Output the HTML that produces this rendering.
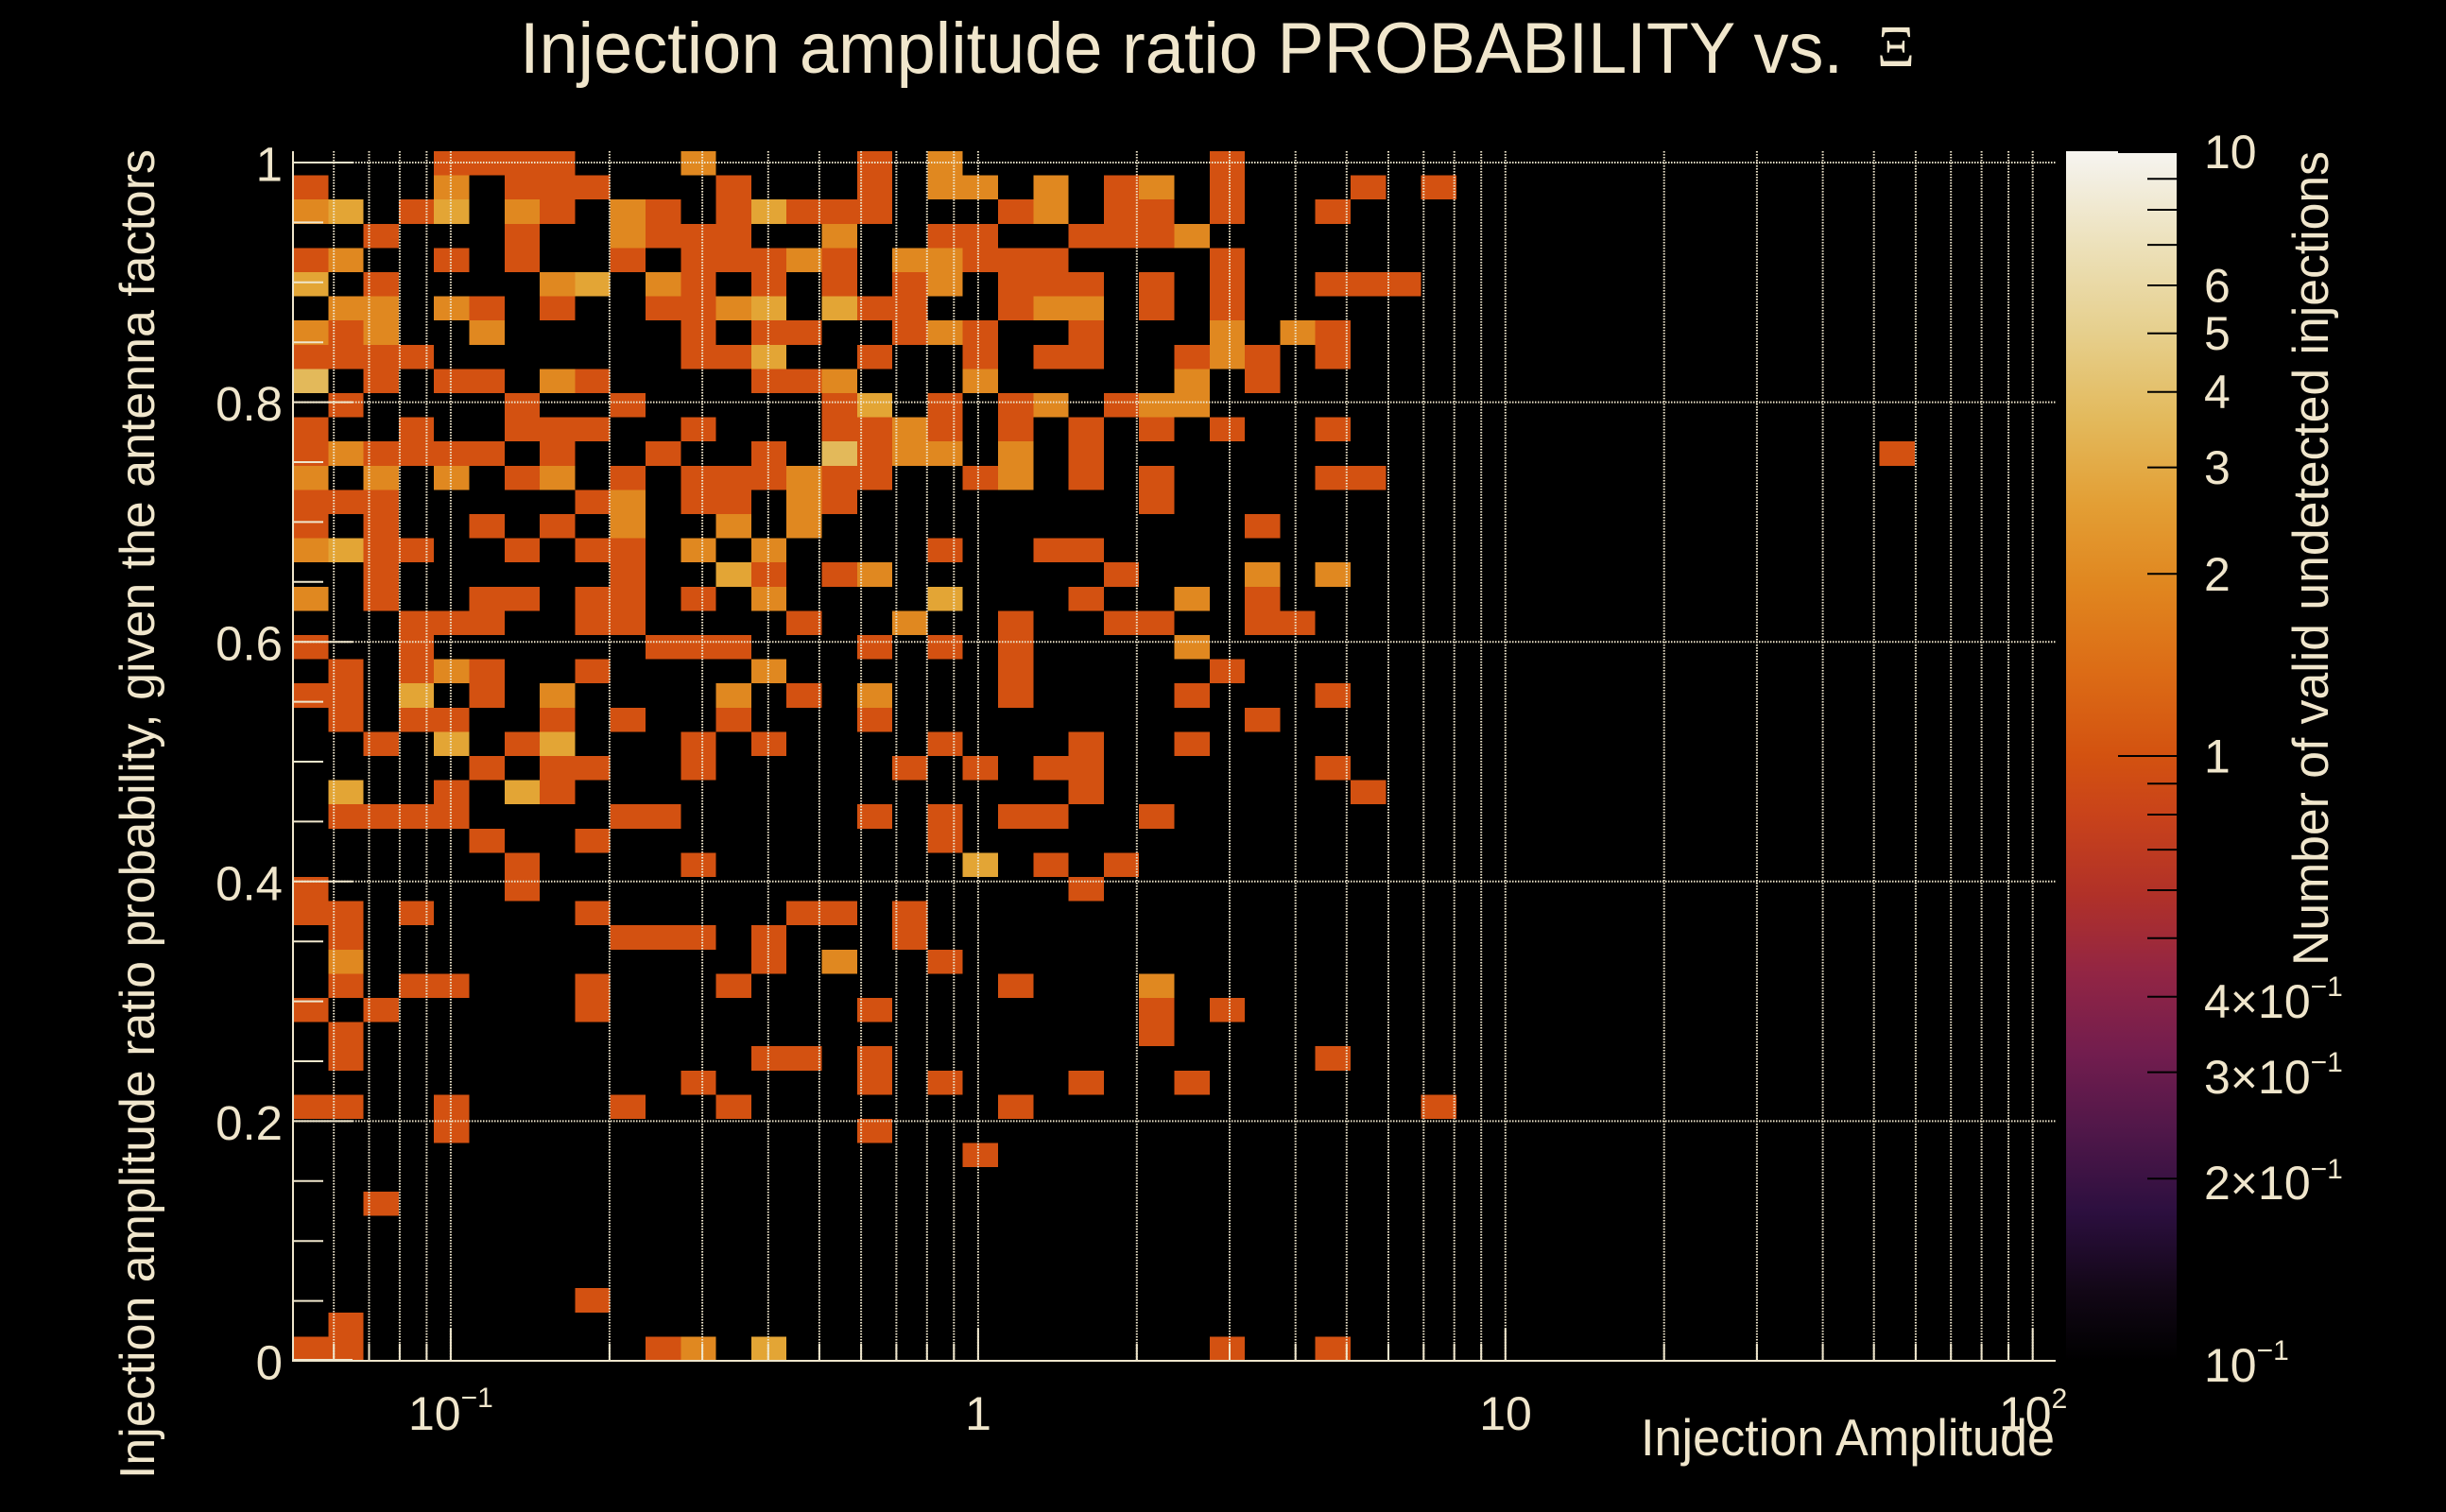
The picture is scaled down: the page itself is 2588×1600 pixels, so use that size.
<!DOCTYPE html>
<html>
<head>
<meta charset="utf-8">
<style>
html,body{margin:0;padding:0;background:#000;}
svg{display:block;}
.t{font-family:"Liberation Sans",sans-serif;fill:#f0e6cc;}
</style>
</head>
<body>
<svg width="2588" height="1600" viewBox="0 0 2588 1600" xmlns="http://www.w3.org/2000/svg">
<defs>
<linearGradient id="cb" x1="0" y1="0" x2="0" y2="1">
<stop offset="0" stop-color="#f7f5f0"/>
<stop offset="0.012" stop-color="#f4f1e8"/>
<stop offset="0.081" stop-color="#ece0b8"/>
<stop offset="0.151" stop-color="#e6cf8c"/>
<stop offset="0.220" stop-color="#e3ba5d"/>
<stop offset="0.291" stop-color="#e39f35"/>
<stop offset="0.360" stop-color="#e0861f"/>
<stop offset="0.430" stop-color="#dc6c16"/>
<stop offset="0.500" stop-color="#d35210"/>
<stop offset="0.548" stop-color="#c9431a"/>
<stop offset="0.614" stop-color="#b13128"/>
<stop offset="0.680" stop-color="#922544"/>
<stop offset="0.746" stop-color="#721d4e"/>
<stop offset="0.812" stop-color="#4f1749"/>
<stop offset="0.877" stop-color="#2c0f3f"/>
<stop offset="0.943" stop-color="#120716"/>
<stop offset="1" stop-color="#000000"/>
</linearGradient>
</defs>
<rect x="0" y="0" width="2588" height="1600" fill="#000"/>

<!-- heatmap cells -->
<g transform="translate(310,160) scale(37.3,25.6)" shape-rendering="crispEdges">
<path fill="#d35111" d="M4 0h4v1h-4zM16 0h1v1h-1zM26 0h1v1h-1z
M0 1h1v1h-1zM6 1h3v1h-3zM12 1h1v1h-1zM16 1h1v1h-1zM23 1h1v1h-1zM26 1h1v1h-1zM30 1h1v1h-1zM32 1h1v1h-1z
M3 2h1v1h-1zM7 2h1v1h-1zM10 2h1v1h-1zM12 2h1v1h-1zM14 2h3v1h-3zM20 2h1v1h-1zM23 2h2v1h-2zM26 2h1v1h-1zM29 2h1v1h-1z
M2 3h1v1h-1zM6 3h1v1h-1zM10 3h3v1h-3zM18 3h2v1h-2zM22 3h3v1h-3z
M0 4h1v1h-1zM4 4h1v1h-1zM6 4h1v1h-1zM9 4h1v1h-1zM11 4h3v1h-3zM15 4h1v1h-1zM19 4h3v1h-3zM26 4h1v1h-1z
M2 5h1v1h-1zM11 5h1v1h-1zM13 5h1v1h-1zM15 5h1v1h-1zM17 5h1v1h-1zM20 5h3v1h-3zM24 5h1v1h-1zM26 5h1v1h-1zM29 5h3v1h-3z
M5 6h1v1h-1zM7 6h1v1h-1zM10 6h2v1h-2zM16 6h2v1h-2zM20 6h1v1h-1zM24 6h1v1h-1zM26 6h1v1h-1z
M1 7h1v1h-1zM11 7h1v1h-1zM13 7h2v1h-2zM17 7h1v1h-1zM19 7h1v1h-1zM22 7h1v1h-1zM29 7h1v1h-1z
M0 8h4v1h-4zM11 8h2v1h-2zM16 8h1v1h-1zM19 8h1v1h-1zM21 8h2v1h-2zM25 8h1v1h-1zM27 8h1v1h-1zM29 8h1v1h-1z
M2 9h1v1h-1zM4 9h2v1h-2zM8 9h1v1h-1zM13 9h2v1h-2zM27 9h1v1h-1z
M1 10h1v1h-1zM6 10h1v1h-1zM9 10h1v1h-1zM15 10h1v1h-1zM18 10h1v1h-1zM20 10h1v1h-1zM23 10h1v1h-1z
M0 11h1v1h-1zM3 11h1v1h-1zM6 11h3v1h-3zM11 11h1v1h-1zM15 11h2v1h-2zM18 11h1v1h-1zM20 11h1v1h-1zM22 11h1v1h-1zM24 11h1v1h-1zM26 11h1v1h-1zM29 11h1v1h-1z
M0 12h1v1h-1zM2 12h4v1h-4zM7 12h1v1h-1zM10 12h1v1h-1zM13 12h1v1h-1zM16 12h1v1h-1zM22 12h1v1h-1zM45 12h1v1h-1z
M6 13h1v1h-1zM9 13h1v1h-1zM11 13h3v1h-3zM15 13h2v1h-2zM19 13h1v1h-1zM22 13h1v1h-1zM24 13h1v1h-1zM29 13h2v1h-2z
M0 14h3v1h-3zM8 14h1v1h-1zM11 14h2v1h-2zM15 14h1v1h-1zM24 14h1v1h-1z
M0 15h1v1h-1zM2 15h1v1h-1zM5 15h1v1h-1zM7 15h1v1h-1zM27 15h1v1h-1z
M2 16h2v1h-2zM6 16h1v1h-1zM8 16h2v1h-2zM18 16h1v1h-1zM21 16h2v1h-2z
M2 17h1v1h-1zM9 17h1v1h-1zM13 17h1v1h-1zM15 17h1v1h-1zM23 17h1v1h-1z
M2 18h1v1h-1zM5 18h2v1h-2zM8 18h2v1h-2zM11 18h1v1h-1zM22 18h1v1h-1zM27 18h1v1h-1z
M3 19h3v1h-3zM8 19h2v1h-2zM14 19h1v1h-1zM20 19h1v1h-1zM23 19h2v1h-2zM27 19h2v1h-2z
M0 20h1v1h-1zM3 20h1v1h-1zM10 20h3v1h-3zM16 20h1v1h-1zM18 20h1v1h-1zM20 20h1v1h-1z
M1 21h1v1h-1zM3 21h1v1h-1zM5 21h1v1h-1zM8 21h1v1h-1zM20 21h1v1h-1zM26 21h1v1h-1z
M0 22h2v1h-2zM5 22h1v1h-1zM14 22h1v1h-1zM20 22h1v1h-1zM25 22h1v1h-1zM29 22h1v1h-1z
M1 23h1v1h-1zM3 23h2v1h-2zM7 23h1v1h-1zM9 23h1v1h-1zM12 23h1v1h-1zM16 23h1v1h-1zM27 23h1v1h-1z
M2 24h1v1h-1zM6 24h1v1h-1zM11 24h1v1h-1zM13 24h1v1h-1zM18 24h1v1h-1zM22 24h1v1h-1zM25 24h1v1h-1z
M5 25h1v1h-1zM7 25h2v1h-2zM11 25h1v1h-1zM17 25h1v1h-1zM19 25h1v1h-1zM21 25h2v1h-2zM29 25h1v1h-1z
M4 26h1v1h-1zM7 26h1v1h-1zM22 26h1v1h-1zM30 26h1v1h-1z
M1 27h4v1h-4zM9 27h2v1h-2zM16 27h1v1h-1zM18 27h1v1h-1zM20 27h2v1h-2zM24 27h1v1h-1z
M5 28h1v1h-1zM8 28h1v1h-1zM18 28h1v1h-1z
M6 29h1v1h-1zM11 29h1v1h-1zM21 29h1v1h-1zM23 29h1v1h-1z
M0 30h1v1h-1zM6 30h1v1h-1zM22 30h1v1h-1z
M0 31h2v1h-2zM3 31h1v1h-1zM8 31h1v1h-1zM14 31h2v1h-2zM17 31h1v1h-1z
M1 32h1v1h-1zM9 32h3v1h-3zM13 32h1v1h-1zM17 32h1v1h-1z
M13 33h1v1h-1zM18 33h1v1h-1z
M1 34h1v1h-1zM3 34h2v1h-2zM8 34h1v1h-1zM12 34h1v1h-1zM20 34h1v1h-1z
M0 35h1v1h-1zM2 35h1v1h-1zM8 35h1v1h-1zM16 35h1v1h-1zM24 35h1v1h-1zM26 35h1v1h-1z
M1 36h1v1h-1zM24 36h1v1h-1z
M1 37h1v1h-1zM13 37h2v1h-2zM16 37h1v1h-1zM29 37h1v1h-1z
M11 38h1v1h-1zM16 38h1v1h-1zM18 38h1v1h-1zM22 38h1v1h-1zM25 38h1v1h-1z
M0 39h2v1h-2zM4 39h1v1h-1zM9 39h1v1h-1zM12 39h1v1h-1zM20 39h1v1h-1zM32 39h1v1h-1z
M4 40h1v1h-1zM16 40h1v1h-1z
M19 41h1v1h-1z
M2 43h1v1h-1z
M8 47h1v1h-1z
M1 48h1v1h-1z
M0 49h2v1h-2zM10 49h1v1h-1zM26 49h1v1h-1zM29 49h1v1h-1z"/>
<path fill="#e08820" d="M11 0h1v1h-1zM18 0h1v1h-1z
M4 1h1v1h-1zM18 1h2v1h-2zM21 1h1v1h-1zM24 1h1v1h-1z
M0 2h1v1h-1zM6 2h1v1h-1zM9 2h1v1h-1zM21 2h1v1h-1z
M9 3h1v1h-1zM15 3h1v1h-1zM25 3h1v1h-1z
M1 4h1v1h-1zM14 4h1v1h-1zM17 4h2v1h-2z
M7 5h1v1h-1zM10 5h1v1h-1zM18 5h1v1h-1z
M1 6h2v1h-2zM4 6h1v1h-1zM12 6h1v1h-1zM21 6h2v1h-2z
M0 7h1v1h-1zM2 7h1v1h-1zM5 7h1v1h-1zM18 7h1v1h-1zM26 7h1v1h-1zM28 7h1v1h-1z
M26 8h1v1h-1z
M7 9h1v1h-1zM15 9h1v1h-1zM19 9h1v1h-1zM25 9h1v1h-1z
M21 10h1v1h-1zM24 10h2v1h-2z
M17 11h1v1h-1z
M1 12h1v1h-1zM17 12h2v1h-2zM20 12h1v1h-1z
M0 13h1v1h-1zM2 13h1v1h-1zM4 13h1v1h-1zM7 13h1v1h-1zM14 13h1v1h-1zM20 13h1v1h-1z
M9 14h1v1h-1zM14 14h1v1h-1z
M9 15h1v1h-1zM12 15h1v1h-1zM14 15h1v1h-1z
M0 16h1v1h-1zM11 16h1v1h-1zM13 16h1v1h-1z
M16 17h1v1h-1zM27 17h1v1h-1zM29 17h1v1h-1z
M0 18h1v1h-1zM13 18h1v1h-1zM25 18h1v1h-1z
M17 19h1v1h-1z
M25 20h1v1h-1z
M4 21h1v1h-1zM13 21h1v1h-1z
M7 22h1v1h-1zM12 22h1v1h-1zM16 22h1v1h-1z
M1 33h1v1h-1zM15 33h1v1h-1z
M24 34h1v1h-1z
M11 49h1v1h-1z"/>
<path fill="#e3a535" d="M1 2h1v1h-1zM4 2h1v1h-1zM13 2h1v1h-1z
M0 5h1v1h-1zM8 5h1v1h-1z
M13 6h1v1h-1zM15 6h1v1h-1z
M13 8h1v1h-1z
M16 10h1v1h-1z
M1 16h1v1h-1z
M12 17h1v1h-1z
M18 18h1v1h-1z
M3 22h1v1h-1z
M4 24h1v1h-1zM7 24h1v1h-1z
M1 26h1v1h-1zM6 26h1v1h-1z
M19 29h1v1h-1z
M13 49h1v1h-1z"/>
<path fill="#e3b95a" d="M0 9h1v1h-1zM15 12h1v1h-1z"/>
</g>

<!-- dotted grid -->
<path fill="none" stroke="#efe6cc" stroke-width="2" stroke-dasharray="1.5 1.5" d="
M310 172H2175M310 425.6H2175M310 679.2H2175M310 932.8H2175M310 1186.4H2175
M353.2 160V1440M390.5 160V1440M422.9 160V1440M451.4 160V1440M476.9 160V1440
M644.9 160V1440M743.1 160V1440M812.8 160V1440M866.9 160V1440M911.1 160V1440M948.4 160V1440M980.8 160V1440M1009.3 160V1440M1034.9 160V1440
M1202.8 160V1440M1301 160V1440M1370.7 160V1440M1424.8 160V1440M1469 160V1440M1506.3 160V1440M1538.7 160V1440M1567.2 160V1440M1592.8 160V1440
M1760.7 160V1440M1858.9 160V1440M1928.6 160V1440M1982.7 160V1440M2026.9 160V1440M2064.2 160V1440M2096.6 160V1440M2125.1 160V1440M2150.7 160V1440"/>

<!-- axes and ticks -->
<path fill="none" stroke="#efe6cc" stroke-width="2" d="
M310 160V1440H2175
M310 172H373M310 425.6H373M310 679.2H373M310 932.8H373M310 1186.4H373M310 1439H373
M310 235.4H342M310 298.8H342M310 362.2H342M310 489H342M310 552.4H342M310 615.8H342M310 742.6H342M310 806H342M310 869.4H342M310 996.2H342M310 1059.6H342M310 1123H342M310 1249.8H342M310 1313.2H342M310 1376.6H342
M476.9 1440V1406M1034.9 1440V1406M1592.8 1440V1406M2150.7 1440V1406
M353.2 1440V1422M390.5 1440V1422M422.9 1440V1422M451.4 1440V1422
M644.9 1440V1422M743.1 1440V1422M812.8 1440V1422M866.9 1440V1422M911.1 1440V1422M948.4 1440V1422M980.8 1440V1422M1009.3 1440V1422
M1202.8 1440V1422M1301 1440V1422M1370.7 1440V1422M1424.8 1440V1422M1469 1440V1422M1506.3 1440V1422M1538.7 1440V1422M1567.2 1440V1422
M1760.7 1440V1422M1858.9 1440V1422M1928.6 1440V1422M1982.7 1440V1422M2026.9 1440V1422M2064.2 1440V1422M2096.6 1440V1422M2125.1 1440V1422"/>

<!-- colorbar -->
<rect x="2186" y="160" width="117" height="1280" fill="url(#cb)"/>
<path fill="none" stroke="#000" stroke-width="2" d="
M2241 161H2303M2241 800H2303M2241 1439H2303
M2272 189.3H2303M2272 222H2303M2272 259.1H2303M2272 302H2303M2272 352.7H2303M2272 414.7H2303M2272 494.6H2303M2272 607.3H2303
M2272 829.3H2303M2272 862H2303M2272 899.1H2303M2272 942H2303M2272 992.7H2303M2272 1054.7H2303M2272 1134.6H2303M2272 1247.3H2303"/>

<g class="t">
<!-- title -->
<text x="550" y="77" font-size="76" textLength="1400" lengthAdjust="spacingAndGlyphs">Injection amplitude ratio PROBABILITY vs.</text>
<text x="1986" y="70" font-size="62" style="font-family:'Liberation Serif','DejaVu Serif',serif">Ξ</text>

<!-- y tick labels -->
<g font-size="51" text-anchor="end">
<text x="299" y="191.5">1</text>
<text x="299" y="445">0.8</text>
<text x="299" y="698.7">0.6</text>
<text x="299" y="952.3">0.4</text>
<text x="299" y="1206">0.2</text>
<text x="299" y="1459.5">0</text>
</g>

<!-- x tick labels -->
<text x="432" y="1513" font-size="50">10</text>
<text x="487.6" y="1489" font-size="30">−1</text>
<text x="1035" y="1513" font-size="50" text-anchor="middle">1</text>
<text x="1593" y="1513" font-size="50" text-anchor="middle">10</text>
<text x="2115" y="1513" font-size="50">10</text>
<text x="2170.6" y="1490" font-size="30">2</text>

<!-- axis titles -->
<text x="1736" y="1540" font-size="55" textLength="438" lengthAdjust="spacingAndGlyphs">Injection Amplitude</text>
<text transform="translate(163,1565) rotate(-90)" font-size="52" textLength="1407" lengthAdjust="spacingAndGlyphs">Injection amplitude ratio probability, given the antenna factors</text>
<text transform="translate(2463,1022) rotate(-90)" font-size="53" textLength="862" lengthAdjust="spacingAndGlyphs">Number of valid undetected injections</text>

<!-- colorbar labels -->
<g font-size="50">
<text x="2332" y="178">10</text>
<text x="2332" y="319.5">6</text>
<text x="2332" y="370">5</text>
<text x="2332" y="432">4</text>
<text x="2332" y="512">3</text>
<text x="2332" y="625">2</text>
<text x="2332" y="817.5">1</text>
<text x="2332" y="1077">4×10</text>
<text x="2332" y="1157">3×10</text>
<text x="2332" y="1269">2×10</text>
<text x="2332" y="1462">10</text>
</g>
<g font-size="30">
<text x="2444.6" y="1054">−1</text>
<text x="2444.6" y="1134">−1</text>
<text x="2444.6" y="1247">−1</text>
<text x="2387.6" y="1439">−1</text>
</g>
</g>
</svg>
</body>
</html>
